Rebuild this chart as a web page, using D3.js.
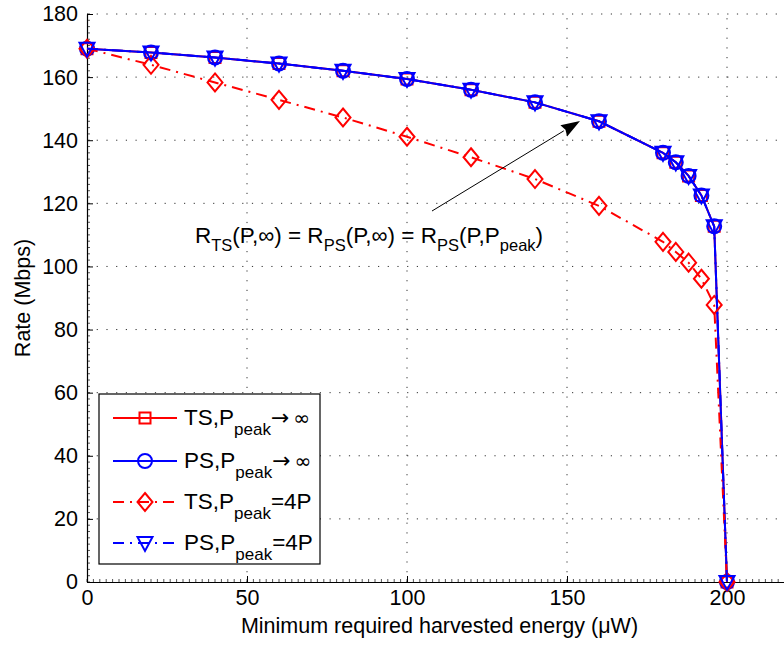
<!DOCTYPE html>
<html><head><meta charset="utf-8">
<script src="https://cdn.jsdelivr.net/npm/d3@7"></script>
<style>body{margin:0;background:#fff;} text{font-family:"Liberation Sans",Arial,Helvetica,sans-serif;fill:#000;}</style>
</head><body>
<svg id="c" width="784" height="646"></svg>
<script>
const energy = [0,20,40,60,80,100,120,140,160,180,184,188,192,196,200];
const rateInf = [169,167.8,166.2,164.3,162,159.4,156,152,146,136,133,128.7,122.5,112.7,0];
const ratePS4P = [169,167.8,166.2,164.3,162,159.4,156,152,146,136,133,128.7,122.5,112.7,0];
const rateTS4P = [169,163.9,158.3,152.8,147.2,141.1,134.6,127.7,119.2,107.8,104.6,101.2,96.1,87.8,0];
const xTicks = [0,50,100,150,200];
const yTicks = [0,20,40,60,80,100,120,140,160,180];
const legendLabels = [["TS,P","peak","\u2192","\u221e"],["PS,P","peak","\u2192","\u221e"],["TS,P","peak","=4P",""],["PS,P","peak","=4P",""]];

const svg = d3.select("#c");
const x = d3.scaleLinear().domain([0,220]).range([87,791]);
const y = d3.scaleLinear().domain([0,180]).range([582,14]);
const FS = 21.5;

// grid
const grid = svg.append("g").attr("stroke","#333").attr("stroke-width",1).attr("stroke-dasharray","1.2,8.5");
xTicks.filter(d=>d>0).concat([220]).forEach(d=>grid.append("line").attr("x1",x(d)).attr("x2",x(d)).attr("y1",y(0)).attr("y2",y(180)));
yTicks.filter(d=>d>0).forEach(d=>grid.append("line").attr("x1",x(0)).attr("x2",x(220)).attr("y1",y(d)).attr("y2",y(d)));

// minor ticks
const minor = svg.append("g").attr("stroke","#555").attr("stroke-width",1);
d3.range(0,221,2).forEach(d=>minor.append("line").attr("x1",x(d)).attr("x2",x(d)).attr("y1",y(0)).attr("y2",y(0)-3));
d3.range(0,181,2).forEach(d=>minor.append("line").attr("x1",x(0)).attr("x2",x(0)+3).attr("y1",y(d)).attr("y2",y(d)));

// axes
const xa = svg.append("g").attr("transform",`translate(0,${y(0)})`)
  .call(d3.axisBottom(x).tickValues(xTicks).tickSizeInner(-6).tickSizeOuter(0).tickPadding(8));
const ya = svg.append("g").attr("transform",`translate(${x(0)},0)`)
  .call(d3.axisLeft(y).tickValues(yTicks).tickSizeInner(-6).tickSizeOuter(0).tickPadding(9));
[xa,ya].forEach(a=>{a.selectAll("text").attr("font-size",FS).attr("font-family","Liberation Sans, Arial, sans-serif");
  a.select(".domain").attr("stroke","#000").attr("stroke-width",1.2); a.selectAll(".tick line").attr("stroke","#000");});

svg.append("text").attr("x",(241+638)/2).attr("y",633).attr("text-anchor","middle").attr("font-size",FS)
  .text("Minimum required harvested energy (\u03bcW)");
svg.append("text").attr("transform","translate(30,298) rotate(-90)").attr("text-anchor","middle").attr("font-size",FS)
  .text("Rate (Mbps)");

// series
const series = [
  {vals:rateInf, color:"#ff0000", dash:null, marker:"square"},
  {vals:rateInf, color:"#0000ff", dash:null, marker:"circle"},
  {vals:rateTS4P, color:"#ff0000", dash:"11,6,2,6", marker:"diamond"},
  {vals:ratePS4P, color:"#0000ff", dash:"11,6,2,6", marker:"tri"}
];
function drawMarker(g, type, cx, cy, color){
  const m = g.append("path").attr("fill","none").attr("stroke",color).attr("stroke-width",2);
  let p;
  if(type==="square") p=`M${cx-5.5},${cy-5.5}h11v11h-11z`;
  else if(type==="circle") p=`M${cx-7},${cy}a7,7 0 1,0 14,0a7,7 0 1,0 -14,0z`;
  else if(type==="diamond") p=`M${cx},${cy-9}L${cx+7.5},${cy}L${cx},${cy+9}L${cx-7.5},${cy}z`;
  else p=`M${cx-7.5},${cy-6}L${cx+7.5},${cy-6}L${cx},${cy+8}z`;
  m.attr("d",p);
}
const line = d3.line().x(d=>x(d[0])).y(d=>y(d[1]));
series.forEach(s=>{
  const g = svg.append("g");
  const pts = energy.map((e,i)=>[e,s.vals[i]]);
  g.append("path").attr("d",line(pts)).attr("fill","none").attr("stroke",s.color).attr("stroke-width",2)
    .attr("stroke-dasharray",s.dash);
  pts.forEach(p=>drawMarker(g,s.marker,x(p[0]),y(p[1]),s.color));
});

// annotation
const AF = 22.5, SF = 16.5;
const ann = svg.append("text").attr("x",195).attr("y",243).attr("font-size",AF);
ann.append("tspan").text("R");
ann.append("tspan").attr("dy",8).attr("font-size",SF).text("TS");
ann.append("tspan").attr("dy",-8).text("(P,\u221e) = R");
ann.append("tspan").attr("dy",8).attr("font-size",SF).text("PS");
ann.append("tspan").attr("dy",-8).text("(P,\u221e) = R");
ann.append("tspan").attr("dy",8).attr("font-size",SF).text("PS");
ann.append("tspan").attr("dy",-8).text("(P,P");
ann.append("tspan").attr("dy",8).attr("font-size",SF).text("peak");
ann.append("tspan").attr("dy",-8).text(")");
// arrow
const ax0=432, ay0=211, ax1=580, ay1=121;
const ang = Math.atan2(ay1-ay0, ax1-ax0);
const hl=19, hw=6.5;
const bx = ax1 - hl*Math.cos(ang), by = ay1 - hl*Math.sin(ang);
svg.append("line").attr("x1",ax0).attr("y1",ay0).attr("x2",bx).attr("y2",by).attr("stroke","#000").attr("stroke-width",1);
svg.append("path").attr("d",`M${ax1},${ay1}L${bx-hw*Math.sin(ang)},${by+hw*Math.cos(ang)}L${bx+2*Math.cos(ang)},${by+2*Math.sin(ang)}L${bx+hw*Math.sin(ang)},${by-hw*Math.cos(ang)}Z`).attr("fill","#000");

// legend
const lg = svg.append("g");
lg.append("rect").attr("x",99).attr("y",394).attr("width",221).attr("height",170).attr("fill","#fff").attr("stroke","#000").attr("stroke-width",1.2);
const rowsY = [418,461,502,543];
series.forEach((s,i)=>{
  const yy = rowsY[i];
  lg.append("line").attr("x1",113).attr("x2",177).attr("y1",yy).attr("y2",yy).attr("stroke",s.color).attr("stroke-width",2)
    .attr("stroke-dasharray",s.dash);
  drawMarker(lg,s.marker,145,yy,s.color);
  const t = lg.append("text").attr("x",184).attr("y",yy+7).attr("font-size",22.5);
  const L = legendLabels[i];
  t.append("tspan").text(L[0]);
  t.append("tspan").attr("dy",10).attr("font-size",17).text(L[1]);
  if(L[3]){
    t.append("tspan").attr("dy",-10).attr("font-family","DejaVu Sans").attr("font-size",22).text(L[2]);
    t.append("tspan").attr("dx",4).attr("font-family","DejaVu Sans").attr("font-size",20).text(L[3]);
  } else {
    t.append("tspan").attr("dy",-10).text(L[2]);
  }
});
</script>
</body></html>
